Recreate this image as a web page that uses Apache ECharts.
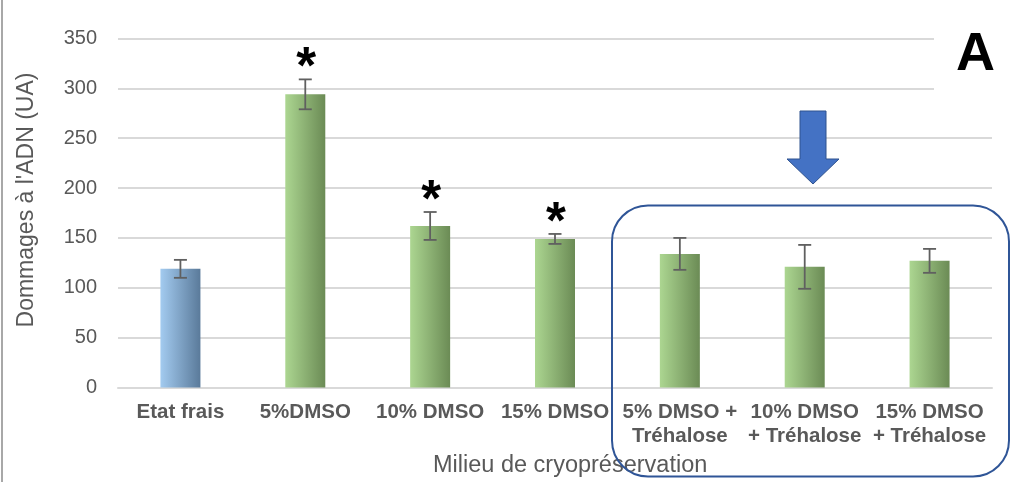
<!DOCTYPE html>
<html>
<head>
<meta charset="utf-8">
<script src="https://cdn.jsdelivr.net/npm/echarts@6/dist/echarts.min.js"></script>
<style>
  html, body { margin: 0; padding: 0; background: #fff; }
  #chart { width: 1013px; height: 482px; }
</style>
</head>
<body>
<div id="chart"></div>
<script>
// Cryopreservation media and the measured DNA damage (arbitrary units)
const categories = [
  'Etat frais',
  '5%DMSO',
  '10% DMSO',
  '15% DMSO',
  '5% DMSO +\nTréhalose',
  '10% DMSO\n+ Tréhalose',
  '15% DMSO\n+ Tréhalose'
];
const damage = [119, 294, 162, 149, 134, 121, 127];
const errors = [9, 15, 14, 5, 16, 22, 12];
const marks = ['', '*', '*', '*', '', '', ''];
const yTicks = [0, 50, 100, 150, 200, 250, 300, 350];

const FONT = '"Liberation Sans", Arial, sans-serif';
const TEXT = '#595959';

function hGrad(left, right) {
  return new echarts.graphic.LinearGradient(0, 0, 1, 0, [
    { offset: 0, color: left },
    { offset: 1, color: right }
  ]);
}
const blueFill = hGrad('#a3cbf0', '#5a7a9a');
const greenFill = hGrad('#acd691', '#6b8b55');

const chart = echarts.init(document.getElementById('chart'), null, { renderer: 'canvas' });

chart.setOption({
  animation: false,
  backgroundColor: '#ffffff',
  grid: { left: 118, right: 21, top: 38.5, bottom: 94.5, containLabel: false },
  xAxis: {
    type: 'category',
    data: categories,
    axisLine: { show: true, lineStyle: { color: '#d9d9d9', width: 2 } },
    axisTick: { show: false },
    axisLabel: {
      interval: 0,
      margin: 13,
      color: TEXT,
      fontFamily: FONT,
      fontWeight: 'bold',
      fontSize: 20.5,
      lineHeight: 24
    }
  },
  yAxis: {
    type: 'value',
    min: yTicks[0],
    max: yTicks[yTicks.length - 1],
    interval: 50,
    axisLine: { show: false },
    axisTick: { show: false },
    splitLine: { lineStyle: { color: '#d9d9d9', width: 2 } },
    axisLabel: { color: TEXT, fontFamily: FONT, fontSize: 20, margin: 21 }
  },
  series: [
    {
      type: 'bar',
      barWidth: 40,
      data: damage.map((v, i) => ({
        value: v,
        itemStyle: { color: i === 0 ? blueFill : greenFill }
      })),
      z: 2
    },
    {
      type: 'custom',
      z: 3,
      data: damage.map((v, i) => [i, v, errors[i]]),
      renderItem(params, api) {
        const i = api.value(0);
        const v = api.value(1);
        const e = api.value(2);
        const top = api.coord([i, v + e]);
        const bot = api.coord([i, v - e]);
        const half = 6.5;
        const style = { stroke: '#606060', lineWidth: 1.8 };
        const children = [
          { type: 'line', shape: { x1: top[0], y1: top[1], x2: bot[0], y2: bot[1] }, style },
          { type: 'line', shape: { x1: top[0] - half, y1: top[1], x2: top[0] + half, y2: top[1] }, style },
          { type: 'line', shape: { x1: bot[0] - half, y1: bot[1], x2: bot[0] + half, y2: bot[1] }, style }
        ];
        if (marks[i]) {
          children.push({
            type: 'text',
            style: {
              text: marks[i],
              x: top[0] + 1,
              y: top[1] - 10,
              align: 'center',
              verticalAlign: 'middle',
              font: 'bold 51px ' + FONT,
              fill: '#000'
            }
          });
        }
        return { type: 'group', children };
      }
    }
  ],
  graphic: [
    // thin frame edge on the left
    { type: 'line', shape: { x1: 2, y1: 0, x2: 2, y2: 482 }, style: { stroke: '#a8a8a8', lineWidth: 2 }, z: 10 },
    // y-axis title
    {
      type: 'text', x: 27, y: 200, rotation: Math.PI / 2,
      style: { text: "Dommages à l'ADN (UA)", font: '23px ' + FONT, fill: TEXT, align: 'center', verticalAlign: 'middle' },
      z: 10
    },
    // x-axis title
    {
      type: 'text', left: 433, top: 454,
      style: { text: 'Milieu de cryopréservation', font: '23.5px ' + FONT, fill: TEXT },
      z: 10
    },
    // panel letter on a white patch
    { type: 'rect', shape: { x: 934, y: 28, width: 79, height: 70 }, style: { fill: '#ffffff' }, z: 10 },
    {
      type: 'text', left: 956, top: 28,
      style: { text: 'A', font: 'bold 54px ' + FONT, fill: '#000' },
      z: 11
    },
    // downward arrow
    {
      type: 'polygon',
      shape: { points: [[800, 111], [826, 111], [826, 159], [839, 159], [813, 184], [787, 159], [800, 159]] },
      style: { fill: '#4472c4', stroke: '#2f528f', lineWidth: 1 },
      z: 10
    },
    // rounded frame around the trehalose groups
    {
      type: 'rect',
      shape: { x: 612, y: 205.5, width: 397, height: 271, r: 36 },
      style: { fill: 'none', stroke: '#2f5597', lineWidth: 2 },
      z: 12
    }
  ]
});
</script>
</body>
</html>
